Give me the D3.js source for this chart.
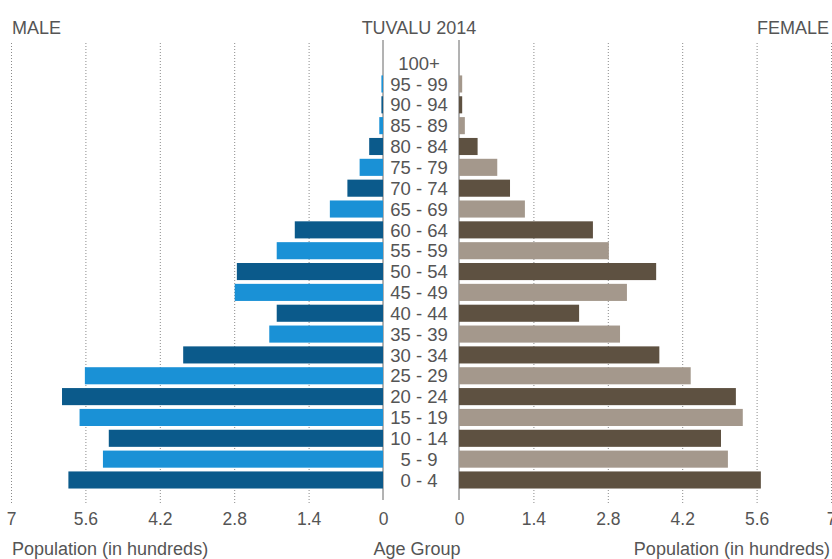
<!DOCTYPE html>
<html>
<head>
<meta charset="utf-8">
<script src="https://cdn.jsdelivr.net/npm/d3@7/dist/d3.min.js"></script>
<style>
  body { margin: 0; background: #fff; }
  svg text {
    font-family: "Liberation Sans", Arial, sans-serif;
    fill: #555;
  }
</style>
</head>
<body>
<div id="canvas"></div>
<script>
'use strict';

// Age groups from youngest to oldest.
const ageGroups = [
  '0 - 4', '5 - 9', '10 - 14', '15 - 19', '20 - 24', '25 - 29', '30 - 34',
  '35 - 39', '40 - 44', '45 - 49', '50 - 54', '55 - 59', '60 - 64',
  '65 - 69', '70 - 74', '75 - 79', '80 - 84', '85 - 89', '90 - 94',
  '95 - 99', '100+',
];
// Population in hundreds, same order as ageGroups.
const maleValues = [
  5.92, 5.27, 5.16, 5.71, 6.04, 5.61, 3.76, 2.14, 2.00, 2.79, 2.75,
  2.00, 1.66, 1.00, 0.67, 0.44, 0.26, 0.07, 0.03, 0.03, 0,
];
const femaleValues = [
  5.68, 5.06, 4.93, 5.34, 5.21, 4.36, 3.77, 3.03, 2.26, 3.16, 3.71,
  2.82, 2.52, 1.24, 0.96, 0.72, 0.35, 0.11, 0.06, 0.06, 0,
];
const tickValues = [0, 1.4, 2.8, 4.2, 5.6, 7];
const axisMax = 7;

const width = 832;
const height = 559;
const maleColors = ['#0b5a8b', '#1a91d6'];
const femaleColors = ['#5e5141', '#a4988c'];

const svg = d3.select('#canvas').append('svg')
    .attr('width', width)
    .attr('height', height);

// Male side runs right to left, female side left to right.
const xMale = d3.scaleLinear().domain([0, axisMax]).range([383, 11]);
const xFemale = d3.scaleLinear().domain([0, axisMax]).range([459, 831]);
const y = d3.scaleBand()
    .domain(ageGroups.slice().reverse())
    .range([52.7, 490.4])
    .paddingInner(0.18)
    .paddingOuter(0.09);

const gridTop = 43;
const gridBottom = 503;

// Axes with dotted gridlines drawn as long upward ticks.
function drawAxis(scale) {
  const axis = d3.axisBottom(scale)
      .tickValues(tickValues)
      .tickFormat(d3.format('~g'))
      .tickSize(-(gridBottom - gridTop))
      .tickPadding(10);
  const g = svg.append('g')
      .attr('transform', `translate(0, ${gridBottom})`)
      .call(axis);
  g.select('.domain').remove();
  g.selectAll('.tick line')
      .attr('stroke', '#8a8a8a')
      .attr('stroke-dasharray', '1,2')
      .attr('stroke-opacity', d => d === 0 ? 0 : 1);
  g.selectAll('.tick text')
      .attr('font-size', 17.5)
      .style('fill', '#555');
}
drawAxis(xMale);
drawAxis(xFemale);

// Solid baselines at zero on each side.
[xMale(0), xFemale(0)].forEach(x => {
  svg.append('line')
      .attr('x1', x).attr('x2', x)
      .attr('y1', 40).attr('y2', 500)
      .attr('stroke', '#666')
      .attr('stroke-width', 1);
});

svg.append('g').selectAll('rect')
    .data(maleValues)
    .join('rect')
    .attr('x', d => xMale(d))
    .attr('y', (d, i) => y(ageGroups[i]))
    .attr('width', d => xMale(0) - xMale(d))
    .attr('height', y.bandwidth())
    .attr('fill', (d, i) => maleColors[i % 2]);

svg.append('g').selectAll('rect')
    .data(femaleValues)
    .join('rect')
    .attr('x', xFemale(0))
    .attr('y', (d, i) => y(ageGroups[i]))
    .attr('width', d => xFemale(d) - xFemale(0))
    .attr('height', y.bandwidth())
    .attr('fill', (d, i) => femaleColors[i % 2]);

// Age group labels down the middle.
svg.append('g').selectAll('text')
    .data(ageGroups)
    .join('text')
    .attr('x', 419)
    .attr('y', d => y(d) + y.bandwidth() / 2)
    .attr('dy', '0.36em')
    .attr('text-anchor', 'middle')
    .attr('font-size', 18.5)
    .text(d => d);

const labels = [
  {text: 'MALE', x: 12, y: 34, anchor: 'start'},
  {text: 'TUVALU 2014', x: 419, y: 34, anchor: 'middle'},
  {text: 'FEMALE', x: 829, y: 34, anchor: 'end'},
  {text: 'Population (in hundreds)', x: 12, y: 555, anchor: 'start'},
  {text: 'Age Group', x: 417, y: 555, anchor: 'middle'},
  {text: 'Population (in hundreds)', x: 830, y: 555, anchor: 'end'},
];
svg.append('g').selectAll('text')
    .data(labels)
    .join('text')
    .attr('x', d => d.x)
    .attr('y', d => d.y)
    .attr('text-anchor', d => d.anchor)
    .attr('font-size', 18)
    .text(d => d.text);
</script>
</body>
</html>
